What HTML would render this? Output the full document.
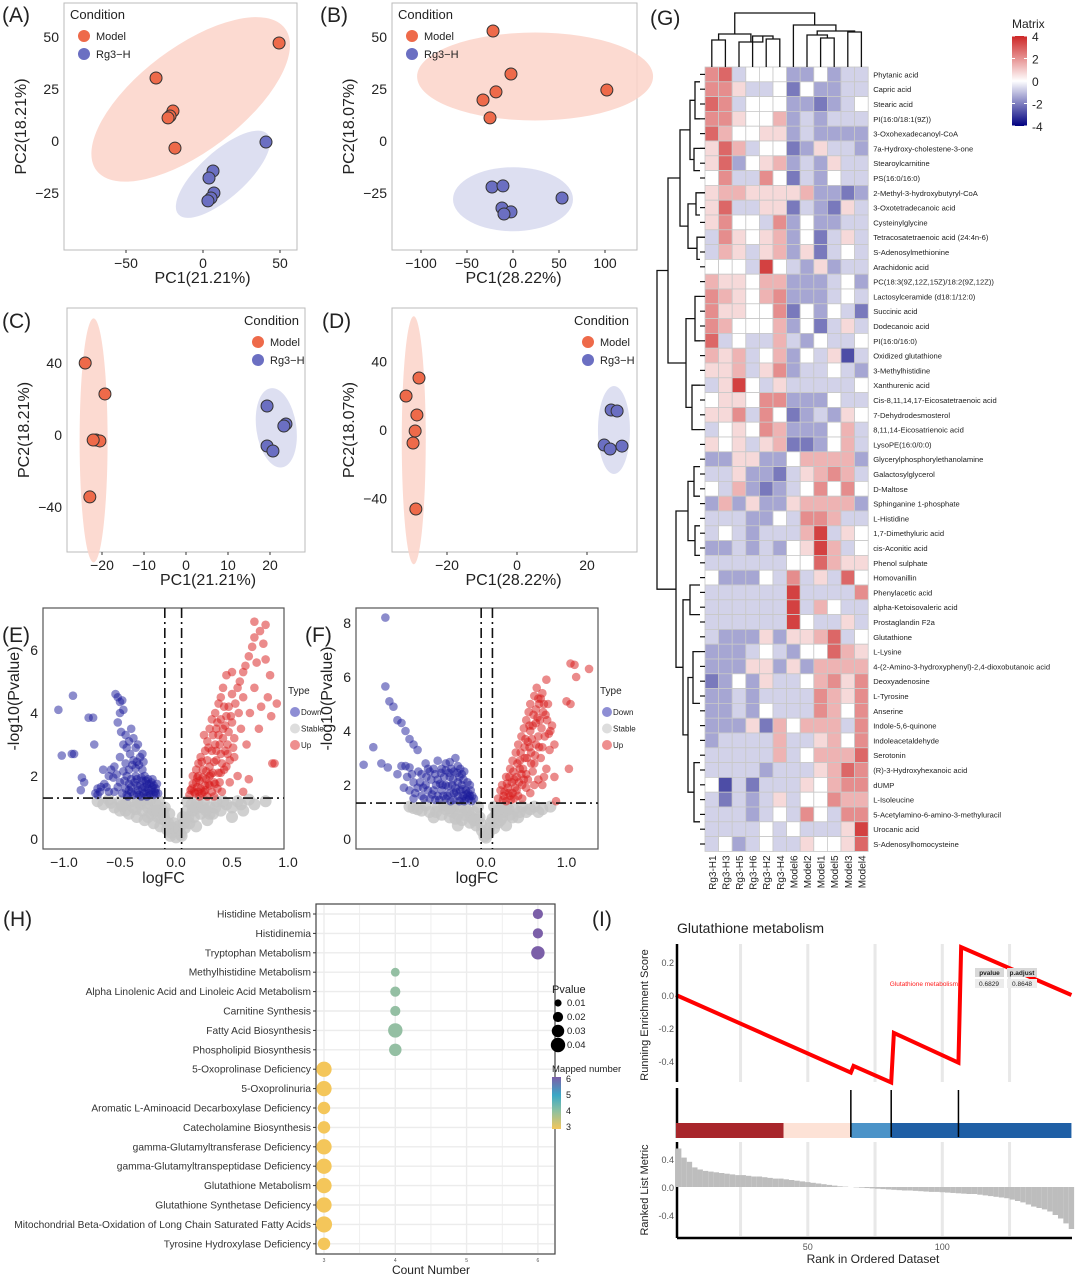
<!DOCTYPE html>
<html><head><meta charset="utf-8">
<style>
html,body{margin:0;padding:0;background:#fff;}
svg{display:block;font-family:"Liberation Sans",Arial,sans-serif;}
</style></head>
<body>
<svg id="fig" width="1080" height="1276" viewBox="0 0 1080 1276" xmlns="http://www.w3.org/2000/svg">
<g id="static" fill="#222">
<text x="2" y="22" font-size="21">(A)</text>
<text x="320" y="22" font-size="21">(B)</text>
<text x="2" y="328" font-size="21">(C)</text>
<text x="322" y="328" font-size="21">(D)</text>
<text x="2" y="642" font-size="21">(E)</text>
<text x="305" y="642" font-size="21">(F)</text>
<text x="650" y="25" font-size="21">(G)</text>
<text x="3" y="926" font-size="21">(H)</text>
<text x="592" y="926" font-size="21">(I)</text>
</g>
<g id="layer"></g>
</svg>
<script>
const NS='http://www.w3.org/2000/svg';
const root=document.getElementById('layer');
function mk(tag,attrs,parent){const e=document.createElementNS(NS,tag);for(const k in attrs)e.setAttribute(k,attrs[k]);(parent||root).appendChild(e);return e;}
function tx(x,y,s,size,attrs){const e=mk('text',Object.assign({x:x,y:y,'font-size':size,fill:'#222'},attrs||{}));e.textContent=s;return e;}

/* ---------------- PCA data ---------------- */
const pcaA_model=[[49.4,47.1],[-30.5,30.3],[-19.5,14.4],[-21.4,12],[-22.7,11.1],[-18.2,-3.4]];
const pcaA_rg3=[[40.9,-0.5],[6.5,-14.4],[3.9,-17.8],[7.1,-25],[5.2,-27.4],[3.2,-28.8]];
const pcaB_model=[[-21.7,52.9],[-2.2,32.2],[-18.5,23.6],[-32.6,19.7],[-25,11.1],[102,24.5]];
const pcaB_rg3=[[-22.8,-22.1],[-10.9,-21.6],[53.3,-27.4],[-12,-32.2],[-2.2,-34.1],[-9.8,-35.1]];
const pcaC_model=[[-24,40],[-19.3,22.8],[-21.4,-2.8],[-20.5,-3.3],[-22.1,-2.8],[-22.9,-34.4]];
const pcaC_rg3=[[19.3,16.1],[23.8,6.1],[23.3,5],[19.3,-6.1],[20.7,-8.9]];
const pcaD_model=[[-28,30.4],[-31.7,19.9],[-28.6,8.8],[-29.1,-0.6],[-29.7,-7.6],[-28.9,-46.2]];
const pcaD_rg3=[[26.9,11.7],[28.6,11.1],[24.9,-8.8],[26.6,-11.1],[30,-9.4]];
const pcaA_xticks=[-50,0,50], pcaA_yticks=[50,25,0,-25];
const pcaB_xticks=[-100,-50,0,50,100], pcaB_yticks=[50,25,0,-25];
const pcaC_xticks=[-20,-10,0,10,20], pcaC_yticks=[40,0,-40];
const pcaD_xticks=[-20,0,20], pcaD_yticks=[40,0,-40];

function pca(cfg){
  const g=mk('g',{});
  
  
  const X=v=>cfg.x0+cfg.kx*v, Y=v=>cfg.y0-cfg.ky*v;
  const box=mk('rect',{x:cfg.box[0],y:cfg.box[1],width:cfg.box[2]-cfg.box[0],height:cfg.box[3]-cfg.box[1],fill:'#fff',stroke:'#bbb','stroke-width':1},g);
  
  
  cfg.ell.forEach((e,i)=>{
    const el=mk('ellipse',{cx:X(e[0]),cy:Y(e[1]),rx:e[2],ry:e[3],transform:`rotate(${e[4]} ${X(e[0])} ${Y(e[1])})`,fill:i==0?'#fbd3c9':'#d7d9ee','fill-opacity':0.85},g);
    
    
  });
  cfg.model.forEach(p=>{
    const c=mk('circle',{cx:X(p[0]),cy:Y(p[1]),r:6,fill:'#ee6a4a',stroke:'#333','stroke-width':1},g);
    
    
  });
  cfg.rg3.forEach(p=>{
    const c=mk('circle',{cx:X(p[0]),cy:Y(p[1]),r:6,fill:'#6b6fc2',stroke:'#333','stroke-width':1},g);
    
    
  });
  cfg.xt.forEach(v=>{
    const t=tx(X(v),cfg.box[3]+18,String(v).replace('-','−'),14,{'text-anchor':'middle'});
    g.appendChild(t);
    
    
    const l=mk('line',{x1:X(v),x2:X(v),y1:cfg.box[3],y2:cfg.box[3]+3,stroke:'#333'},g);
    
    
  });
  cfg.yt.forEach(v=>{
    const t=tx(cfg.box[0]-5,Y(v)+5,String(v).replace('-','−'),14,{'text-anchor':'end'});
    g.appendChild(t);
    
    
  });
  const xt=tx((cfg.box[0]+cfg.box[2])/2+cfg.xlo,cfg.box[3]+33,cfg.xlab,16,{'text-anchor':'middle'});
  g.appendChild(xt);
  
  
  const yx=cfg.box[0]-38, yc=(cfg.box[1]+cfg.box[3])/2;
  const yt=tx(yx,yc,cfg.ylab,16,{'text-anchor':'middle',transform:`rotate(-90 ${yx} ${yc})`});
  g.appendChild(yt);
  
  
  const L=cfg.leg;
  const lt=tx(L[0],L[1],'Condition',13);g.appendChild(lt);
  
  
  [['Model','#ee6a4a'],['Rg3−H','#6b6fc2']].forEach((d,i)=>{
    const c=mk('circle',{cx:L[0]+14,cy:L[1]+17+i*18,r:6,fill:d[1]},g);
    
    
    const t=tx(L[0]+26,L[1]+21+i*18,d[0],11);g.appendChild(t);
    
    
  });
}
pca({name:'pca-a',box:[64,3,297,250],x0:203,kx:1.54,y0:141,ky:2.08,model:pcaA_model,rg3:pcaA_rg3,xt:pcaA_xticks,yt:pcaA_yticks,xlab:'PC1(21.21%)',ylab:'PC2(18.21%)',xlo:22,leg:[70,19],
  ell:[[-8,20,118,52,-37],[13,-16,60,23,-42]]});
pca({name:'pca-b',box:[392,3,637,250],x0:513,kx:0.92,y0:141,ky:2.08,model:pcaB_model,rg3:pcaB_rg3,xt:pcaB_xticks,yt:pcaB_yticks,xlab:'PC1(28.22%)',ylab:'PC2(18.07%)',xlo:-1,leg:[398,19],
  ell:[[24,31,118,44,0],[0,-28,60,32,0]]});
pca({name:'pca-c',box:[67,308,305,552],x0:186,kx:4.2,y0:435,ky:1.8,model:pcaC_model,rg3:pcaC_rg3,xt:pcaC_xticks,yt:pcaC_yticks,xlab:'PC1(21.21%)',ylab:'PC2(18.21%)',xlo:22,leg:[244,325],
  ell:[[-22,-3,14,122,0],[21.5,4,20,40,-8]]});
pca({name:'pca-d',box:[392,308,637,552],x0:517,kx:3.5,y0:430,ky:1.71,model:pcaD_model,rg3:pcaD_rg3,xt:pcaD_xticks,yt:pcaD_yticks,xlab:'PC1(28.22%)',ylab:'PC2(18.07%)',xlo:-1,leg:[574,325],
  ell:[[-29.5,-6,12,124,0],[27.7,0,16,44,0]]});

/* ---------------- Volcano data ---------------- */
const volE_down=[[-1.05,4.1],[-0.92,4.55],[-1.02,2.65],[-0.93,2.7],[-0.91,2.7],[-0.78,3.85],[-0.74,3.85],[-0.73,3.0],[-0.84,1.95],[-0.85,1.55],[-0.82,1.8],[-0.7,1.4],[-0.68,1.5],[-0.72,1.45],[-0.67,1.65],[-0.64,1.75],[-0.6,2.0],[-0.58,2.2],[-0.54,4.6],[-0.52,4.5],[-0.5,4.35],[-0.48,4.4],[-0.5,4.0],[-0.47,4.1],[-0.52,3.7],[-0.49,3.4],[-0.47,3.0],[-0.45,3.3],[-0.42,3.1],[-0.4,3.5],[-0.38,3.2],[-0.36,2.9],[-0.34,3.0],[-0.32,2.6],[-0.3,2.7],[-0.5,2.6],[-0.45,2.4],[-0.42,2.2],[-0.38,2.5],[-0.35,2.45],[-0.3,2.2],[-0.28,2.0],[-0.25,1.9],[-0.22,1.8],[-0.2,1.7],[-0.18,1.6],[-0.4,1.9],[-0.35,1.7],[-0.3,1.6],[-0.27,1.5],[-0.24,1.45],[-0.2,1.4],[-0.45,1.6],[-0.5,1.8],[-0.55,1.5],[-0.4,1.5],[-0.33,1.4],[-0.26,1.75],[-0.22,1.55],[-0.36,2.0],[-0.44,2.0],[-0.6,1.5],[-0.65,2.2],[-0.55,2.3],[-0.3,1.85],[-0.35,1.45],[-0.28,1.65],[-0.42,1.75],[-0.18,1.45],
[-0.44,1.4],[-0.42,1.55],[-0.4,1.65],[-0.38,1.4],[-0.37,1.8],[-0.34,1.55],[-0.32,1.7],[-0.31,1.95],[-0.29,1.45],[-0.27,1.85],[-0.25,1.6],[-0.24,1.75],[-0.23,1.4],[-0.21,1.65],[-0.19,1.5],[-0.17,1.75],[-0.16,1.45],[-0.46,1.85],[-0.48,1.45],[-0.52,1.65],[-0.36,2.25],[-0.33,2.35],[-0.29,2.45],[-0.41,2.7],[-0.44,2.9],[-0.56,1.95],[-0.62,1.65],[-0.7,1.6],[-0.53,2.05],[-0.47,2.15],[-0.39,2.35],[-0.31,1.35],[-0.26,1.35],[-0.21,1.9],[-0.35,1.9],[-0.43,1.35]];
const volE_up=[[0.12,1.4],[0.14,1.6],[0.16,1.5],[0.18,1.8],[0.2,2.0],[0.22,1.6],[0.24,2.2],[0.25,1.5],[0.27,1.9],[0.28,2.5],[0.3,2.3],[0.3,1.7],[0.32,2.8],[0.33,2.1],[0.35,3.0],[0.36,2.5],[0.37,1.6],[0.38,3.3],[0.4,2.7],[0.4,3.8],[0.42,3.5],[0.43,2.2],[0.45,3.9],[0.46,3.0],[0.47,4.2],[0.48,2.5],[0.5,3.7],[0.5,4.6],[0.52,3.2],[0.53,4.3],[0.55,4.8],[0.55,2.0],[0.57,5.0],[0.58,3.5],[0.6,5.3],[0.6,4.5],[0.62,5.5],[0.63,3.0],[0.65,5.8],[0.66,4.0],[0.68,6.1],[0.7,6.4],[0.7,6.9],[0.72,5.6],[0.75,6.6],[0.78,6.2],[0.8,6.8],[0.8,5.7],[0.82,4.5],[0.85,3.9],[0.86,2.4],[0.88,2.4],[0.9,4.3],[0.84,5.2],[0.74,3.5],[0.65,1.9],[0.6,1.5],[0.45,5.2],[0.5,5.3],[0.4,4.5],[0.35,4.0],[0.3,3.5],[0.28,3.1],[0.26,2.8],[0.22,2.6],[0.2,2.4],[0.18,2.2],[0.15,2.0],[0.25,3.3],[0.32,3.8],[0.38,4.3],[0.42,4.8],[0.56,4.0],[0.7,4.8],[0.76,4.2],[0.2,1.5],[0.26,1.7],[0.3,2.0],[0.34,1.8],[0.4,2.1],[0.44,2.8],[0.36,3.5],
[0.13,1.55],[0.15,1.75],[0.17,1.45],[0.19,1.65],[0.21,1.85],[0.23,1.45],[0.24,1.95],[0.26,1.55],[0.27,2.15],[0.29,1.75],[0.31,2.05],[0.32,1.5],[0.34,2.45],[0.35,1.75],[0.36,2.8],[0.38,2.1],[0.39,3.0],[0.41,2.4],[0.42,3.2],[0.44,3.6],[0.46,2.7],[0.47,3.4],[0.49,3.9],[0.51,2.9],[0.29,2.9],[0.33,3.3],[0.23,2.45],[0.19,1.95],[0.37,3.7],[0.43,4.2],[0.21,1.35],[0.28,1.35],[0.34,1.35],[0.39,1.8],[0.45,2.3],[0.52,2.6],[0.48,1.8],[0.41,1.5]];
const volE_stable=[[-0.7,1.2],[-0.65,1.1],[-0.6,1.25],[-0.55,1.0],[-0.5,1.2],[-0.5,0.9],[-0.45,1.1],[-0.42,0.8],[-0.4,1.2],[-0.38,1.0],[-0.35,0.7],[-0.32,1.1],[-0.3,0.9],[-0.28,0.6],[-0.25,1.0],[-0.22,0.8],[-0.2,0.5],[-0.18,1.1],[-0.16,0.7],[-0.14,0.4],[-0.12,0.9],[-0.1,0.6],[-0.08,0.3],[-0.06,0.8],[-0.04,0.2],[-0.02,0.5],[0,0.05],[0.02,0.4],[0.04,0.15],[0.06,0.7],[0.08,0.35],[0.1,0.9],[0.12,0.5],[0.14,1.1],[0.16,0.7],[0.18,0.4],[0.2,1.0],[0.22,0.8],[0.25,1.2],[0.28,0.6],[0.3,1.0],[0.33,0.8],[0.36,1.2],[0.4,0.9],[0.45,1.1],[0.5,0.7],[0.55,1.2],[0.6,0.9],[0.65,1.25],[0.7,1.1],[0.8,1.2],[-0.3,1.25],[0.0,0.25],[-0.05,0.1],[0.05,0.1],[-0.15,1.2],[0.1,1.2],[-0.25,0.7],[-0.1,1.0],[0.15,0.9],[0.3,0.8],[-0.45,0.9],
[-0.58,1.15],[-0.48,1.05],[-0.36,0.95],[-0.26,1.15],[-0.2,0.9],[-0.13,0.65],[-0.07,0.5],[-0.03,0.35],[0.03,0.3],[0.07,0.5],[0.11,0.7],[0.17,1.0],[0.24,1.0],[0.35,1.0],[0.42,1.2],[0.5,1.0],[0.58,1.1],[-0.34,1.2],[-0.23,1.25],[-0.17,0.9],[0.19,1.2],[0.27,0.9],[-0.11,0.75],[0.09,0.6]];
const volF_down=[[-1.25,8.2],[-1.25,5.65],[-1.2,5.1],[-1.15,4.9],[-1.1,4.4],[-1.05,4.3],[-1.0,4.0],[-0.95,3.7],[-1.4,3.4],[-1.52,2.75],[-1.3,2.8],[-1.22,2.65],[-1.1,2.4],[-0.9,3.5],[-0.85,3.3],[-1.0,2.7],[-0.95,1.8],[-0.9,2.1],[-0.8,2.4],[-0.75,2.0],[-0.7,2.5],[-0.65,1.8],[-0.6,2.2],[-0.55,2.6],[-0.5,2.0],[-0.45,2.3],[-0.4,1.7],[-0.35,2.1],[-0.3,2.4],[-0.25,1.8],[-0.2,1.6],[-0.15,1.5],[-0.8,1.6],[-0.7,1.5],[-0.6,1.6],[-0.5,1.5],[-0.4,1.45],[-0.3,1.5],[-0.2,2.0],[-0.55,1.8],[-0.45,1.7],[-0.35,1.6],[-0.25,1.5],[-0.65,2.6],[-0.75,2.8],[-0.5,2.8],[-0.4,2.5],[-0.3,2.0],[-0.85,1.9],[-0.9,1.5],[-0.18,1.4],[-1.05,2.7],[-0.95,2.65],[-0.6,2.9],[-0.45,2.85],[-0.38,3.0],[-0.35,2.7],[-0.28,2.2],[-0.22,1.7],[-0.32,1.8],[-0.42,2.0],[-0.52,2.3],[-0.62,2.0],[-0.72,1.8],[-0.82,2.1],[-0.48,1.6],[-0.38,1.9],[-0.28,1.6],[-0.58,1.45],[-0.68,2.2],
[-0.92,2.4],[-0.88,1.7],[-0.78,1.9],[-0.74,2.3],[-0.67,1.65],[-0.63,2.4],[-0.57,2.05],[-0.53,1.6],[-0.47,1.95],[-0.43,2.6],[-0.41,2.2],[-0.37,1.75],[-0.33,2.3],[-0.29,1.85],[-0.27,2.5],[-0.24,1.65],[-0.21,1.5],[-0.19,1.8],[-0.17,1.6],[-0.36,2.45],[-0.32,2.6],[-0.46,2.45],[-0.54,2.0],[-0.72,2.6],[-0.77,1.5],[-0.84,2.5],[-0.98,2.3],[-1.02,1.9],[-0.63,1.45],[-0.33,1.4],[-0.44,1.4],[-0.23,2.1],[-0.27,1.4],[-0.5,2.55],[-0.56,2.45]];
const volF_up=[[0.15,1.5],[0.18,1.8],[0.2,2.0],[0.22,1.6],[0.25,2.3],[0.27,1.9],[0.3,2.6],[0.3,1.6],[0.33,2.9],[0.35,2.2],[0.37,3.2],[0.38,1.8],[0.4,3.5],[0.42,2.6],[0.44,3.8],[0.45,2.0],[0.47,4.1],[0.48,3.0],[0.5,4.4],[0.5,2.4],[0.52,3.6],[0.53,4.7],[0.55,5.0],[0.56,3.2],[0.58,4.2],[0.6,5.3],[0.6,2.8],[0.62,4.8],[0.63,5.6],[0.65,3.8],[0.65,5.2],[0.67,4.4],[0.68,5.2],[0.7,5.4],[0.7,3.4],[0.72,5.0],[0.74,4.6],[0.75,5.9],[0.77,5.0],[0.78,3.9],[0.8,4.0],[0.82,4.2],[0.85,3.5],[0.45,1.5],[0.55,1.7],[0.65,2.2],[0.75,2.6],[0.35,1.5],[0.25,1.4],[1.05,6.5],[1.1,6.45],[1.0,5.1],[1.05,5.0],[1.28,6.3],[1.12,6.0],[0.85,2.3],[0.87,1.4],[0.52,2.2],[0.42,2.9],[0.32,2.1],[0.28,1.7],[0.62,3.5],[0.58,2.5],[0.68,3.0],[0.72,2.3],[0.62,4.3],[0.55,4.0],[0.48,3.4],[1.03,2.6],
[0.21,1.45],[0.23,1.75],[0.26,2.05],[0.29,2.3],[0.31,1.45],[0.34,2.5],[0.36,1.9],[0.39,2.8],[0.41,2.1],[0.43,3.2],[0.46,2.6],[0.49,3.7],[0.51,3.0],[0.54,4.2],[0.57,3.7],[0.59,4.6],[0.61,3.1],[0.64,4.5],[0.66,5.0],[0.69,4.1],[0.71,4.7],[0.73,3.8],[0.76,4.4],[0.79,3.3],[0.4,1.6],[0.5,1.9],[0.6,2.0],[0.7,2.0],[0.33,1.7],[0.44,2.4],[0.56,2.8],[0.66,3.4],[0.54,3.4],[0.47,2.2],[0.38,2.3]];
const volF_stable=[[-0.95,1.2],[-0.85,1.1],[-0.75,1.25],[-0.7,1.0],[-0.6,1.2],[-0.55,0.9],[-0.5,1.1],[-0.45,0.8],[-0.4,1.2],[-0.35,0.9],[-0.3,0.7],[-0.25,1.1],[-0.2,0.6],[-0.15,1.0],[-0.12,0.5],[-0.08,0.8],[-0.05,0.3],[-0.02,0.1],[0,0.05],[0.03,0.2],[0.06,0.6],[0.1,0.4],[0.12,0.9],[0.15,0.6],[0.18,1.1],[0.2,0.8],[0.25,1.2],[0.3,0.9],[0.35,1.1],[0.4,0.8],[0.45,1.2],[0.5,1.0],[0.6,1.2],[0.7,1.1],[0.8,1.2],[-0.65,0.8],[-0.35,0.5],[0.25,0.5],[-0.1,1.2],[0.1,1.2],
[-0.9,1.15],[-0.8,1.05],[-0.62,1.0],[-0.52,1.25],[-0.42,1.0],[-0.32,1.2],[-0.28,0.9],[-0.22,1.0],[-0.18,0.8],[-0.1,0.7],[-0.06,0.55],[0.04,0.4],[0.08,0.75],[0.14,1.05],[0.22,1.0],[0.28,1.1],[0.33,0.8],[0.42,1.0],[0.55,1.1],[0.65,1.0],[-0.45,1.15],[-0.38,0.75],[0.18,0.7],[-0.15,0.7]];
const volE_xticks=[-1.0,-0.5,0.0,0.5,1.0], volE_yticks=[0,2,4,6];
const volF_xticks=[-1.0,0.0,1.0], volF_yticks=[0,2,4,6,8];

function volcano(cfg){
  const g=mk('g',{});
  
  
  const X=v=>cfg.x0+cfg.kx*v, Y=v=>cfg.y0-cfg.ky*v;
  const b=cfg.box;
  const r=mk('rect',{x:b[0],y:b[1],width:b[2]-b[0],height:b[3]-b[1],fill:'#fff',stroke:'#555','stroke-width':1.2},g);
  
  
  const groups=[[cfg.stable,'#c4c4c4',0.8,6,'stable-point'],[cfg.down,'#1a1a9a',0.5,4.3,'down-point'],[cfg.up,'#d81818',0.5,4.3,'up-point']];
  groups.forEach(gr=>gr[0].forEach(p=>{
    const c=mk('circle',{cx:X(p[0]),cy:Y(p[1]),r:gr[3],fill:gr[1],'fill-opacity':gr[2]},g);
    
    
  }));
  cfg.vl.forEach(v=>{
    const l=mk('line',{x1:X(v),x2:X(v),y1:b[1],y2:b[3],stroke:'#111','stroke-width':1.6,'stroke-dasharray':'10 4 2 4'},g);
    
    
  });
  const h=mk('line',{x1:b[0],x2:b[2],y1:Y(cfg.hl),y2:Y(cfg.hl),stroke:'#111','stroke-width':1.6,'stroke-dasharray':'10 4 2 4'},g);
  
  
  cfg.xt.forEach(v=>{
    const t=tx(X(v),b[3]+18,v.toFixed(1).replace('-','−'),14,{'text-anchor':'middle'});g.appendChild(t);
    
    
  });
  cfg.yt.forEach(v=>{
    const t=tx(b[0]-5,Y(v)+5,String(v),14,{'text-anchor':'end'});g.appendChild(t);
    
    
  });
  const xt=tx((b[0]+b[2])/2,b[3]+34,'logFC',16,{'text-anchor':'middle'});g.appendChild(xt);
  
  
  const yx=b[0]-24,yc=(b[1]+b[3])/2-30;
  const yt=tx(yx,yc,'-log10(Pvalue)',16,{'text-anchor':'middle',transform:`rotate(-90 ${yx} ${yc})`});g.appendChild(yt);
  
  
  const L=cfg.leg;
  const lt=tx(L[0],L[1],'Type',10);g.appendChild(lt);
  
  
  [['Down','#8e8ed4'],['Stable','#ddd'],['Up','#ee8f8f']].forEach((d,i)=>{
    const c=mk('circle',{cx:L[0]+7,cy:L[1]+18+i*16.5,r:5,fill:d[1]},g);
    
    
    const t=tx(L[0]+13,L[1]+21+i*16.5,d[0],8);g.appendChild(t);
    
    
  });
}
volcano({name:'volcano-e',box:[43,608,284,849],x0:176,kx:112,y0:839,ky:31.5,down:volE_down,up:volE_up,stable:volE_stable,vl:[-0.1,0.05],hl:1.3,xt:volE_xticks,yt:volE_yticks,leg:[288,694]});
volcano({name:'volcano-f',box:[356,608,598,849],x0:486,kx:80.5,y0:839,ky:27,down:volF_down,up:volF_up,stable:volF_stable,vl:[-0.06,0.08],hl:1.33,xt:volF_xticks,yt:volF_yticks,leg:[600,694]});

/* ---------------- Heatmap ---------------- */
const hmCols=['Rg3-H1','Rg3-H3','Rg3-H5','Rg3-H6','Rg3-H2','Rg3-H4','Model6','Model2','Model1','Model5','Model3','Model4'];
const hmRows=['Phytanic acid','Capric acid','Stearic acid','PI(16:0/18:1(9Z))','3-Oxohexadecanoyl-CoA','7a-Hydroxy-cholestene-3-one','Stearoylcarnitine','PS(16:0/16:0)','2-Methyl-3-hydroxybutyryl-CoA','3-Oxotetradecanoic acid','Cysteinylglycine','Tetracosatetraenoic acid (24:4n-6)','S-Adenosylmethionine','Arachidonic acid','PC(18:3(9Z,12Z,15Z)/18:2(9Z,12Z))','Lactosylceramide (d18:1/12:0)','Succinic acid','Dodecanoic acid','PI(16:0/16:0)','Oxidized glutathione','3-Methylhistidine','Xanthurenic acid','Cis-8,11,14,17-Eicosatetraenoic acid','7-Dehydrodesmosterol','8,11,14-Eicosatrienoic acid','LysoPE(16:0/0:0)','Glycerylphosphorylethanolamine','Galactosylglycerol','D-Maltose','Sphinganine 1-phosphate','L-Histidine','1,7-Dimethyluric acid','cis-Aconitic acid','Phenol sulphate','Homovanillin','Phenylacetic acid','alpha-Ketoisovaleric acid','Prostaglandin F2a','Glutathione','L-Lysine','4-(2-Amino-3-hydroxyphenyl)-2,4-dioxobutanoic acid','Deoxyadenosine','L-Tyrosine','Anserine','Indole-5,6-quinone','Indoleacetaldehyde','Serotonin','(R)-3-Hydroxyhexanoic acid','dUMP','L-Isoleucine','5-Acetylamino-6-amino-3-methyluracil','Urocanic acid','S-Adenosylhomocysteine'];
/* each char = z-score level: '0'..'9' -> (c-5)*0.7, 'X' -> 3.5 */
const hmValues=['894555335344','886445253344','984555332345','886557343444','975566343333','697455236443','693567343644','584485243544','677666673323','694466243264','685548353344','486567352464','476467362454','5554X5436344','766577333453','876578333454','866558253542','875557352464','945447435445','767457354614','667468344543','46X546444445','566588333544','668485234365','456587333574','656467223574','336633577773','446332467874','547323458585','373633677773','444335488744','45434447X465','33434356X745','444444559766','533354846495','444444X44448','444444X47544','444444X54464','433363667945','333454355976','333663637777','235364457868','334344448768','334354448758','333627577748','344447446758','444447457779','444434446798','514244465788','424346455877','444345485488','44445454446X','453454465569'];
const hmLegendTicks=[4,2,0,-2,-4];
function hmColor(v){
  if(v>=0){const t=Math.min(v/4,1);return `rgb(${Math.round(255-t*(255-205))},${Math.round(255-t*(255-38))},${Math.round(255-t*(255-38))})`;}
  const t=Math.min(-v/4,1);return `rgb(${Math.round(255-t*255)},${Math.round(255-t*255)},${Math.round(255-t*(255-128))})`;
}
const HX=705, HY=67, CW=13.6, RH=14.8;
(function(){
  const g=mk('g',{});
  
  
  hmValues.forEach((row,ri)=>{
    for(let ci=0;ci<hmCols.length;ci++){
      const ch=row[ci]; const v=ch==='X'?3.5:(parseInt(ch)-5)*0.7;
      const c=mk('rect',{x:HX+ci*CW,y:HY+ri*RH,width:CW,height:RH,fill:hmColor(v),stroke:'#c8c8c8','stroke-width':0.8},g);
      
      
    }
    const t=tx(HX+hmCols.length*CW+5,HY+ri*RH+RH/2+3,hmRows[ri],7.6,{fill:'#222'});g.appendChild(t);
    
    
  });
  const by=HY+hmRows.length*RH;
  hmCols.forEach((c,ci)=>{
    const x=HX+ci*CW+CW/2+4;
    const t=tx(x,by+4,c,10,{'text-anchor':'end',transform:`rotate(-90 ${x} ${by+4})`});g.appendChild(t);
    
    
  });
  const cx=i=>HX+i*CW+CW/2;
  const dpaths=[
    `M${cx(0)} ${HY}V40H${cx(1)}V${HY}`,
    `M${cx(4)} ${HY}V39H${cx(5)}V${HY}`,
    `M${cx(3)} ${HY}V36H${(cx(4)+cx(5))/2}V39`,
    `M${cx(2)} ${HY}V42H${(cx(3)+(cx(4)+cx(5))/2)/2}V36`,
    `M${(cx(0)+cx(1))/2} 40V34H${(cx(2)+(cx(3)+(cx(4)+cx(5))/2)/2)/2}V42`,
    `M${cx(8)} ${HY}V38H${cx(9)}V${HY}`,
    `M${cx(7)} ${HY}V35H${(cx(8)+cx(9))/2}V38`,
    `M${cx(10)} ${HY}V32H${cx(11)}V${HY}`,
    `M${(cx(7)+(cx(8)+cx(9))/2)/2} 35V31H${(cx(10)+cx(11))/2}V32`,
    `M${cx(6)} ${HY}V25H${((cx(7)+(cx(8)+cx(9))/2)/2+(cx(10)+cx(11))/2)/2}V31`,
    `M${((cx(0)+cx(1))/2+(cx(2)+(cx(3)+(cx(4)+cx(5))/2)/2)/2)/2} 34V13H${(cx(6)+((cx(7)+(cx(8)+cx(9))/2)/2+(cx(10)+cx(11))/2)/2)/2}V25`
  ];
  dpaths.forEach(d=>{
    const p=mk('path',{d:d,fill:'none',stroke:'#111','stroke-width':1.3},g);
    
    
  });
  const ry=i=>HY+i*RH+RH/2;
  const splits=[[0,53,657],[0,26,668],[26,53,676],[0,14,680],[14,26,686],[26,34,688],[34,53,683],[0,8,690],[8,14,688],[14,20,695],[20,26,692],[26,30,694],[30,34,695],[34,38,690],[38,53,688],[0,5,695],[5,8,694],[8,11,696],[11,14,697],[38,45,693],[45,53,694]];
  function mid(a,b){return splits.find(q=>q[0]===a&&q[1]===b);}
  function node(a,b){
    const s=mid(a,b);
    if(!s){return {y:(ry(a)+ry(b-1))/2,x:b-a===1?HX:700};}
    let m=null;for(const q of splits){if(q[0]===a&&q[1]<b){m=q[1];break;}}
    if(m===null)m=Math.floor((a+b)/2);
    const L=node(a,m),R=node(m,b);
    const p=mk('path',{d:`M${L.x} ${L.y}H${s[2]}V${R.y}H${R.x}`,fill:'none',stroke:'#111','stroke-width':1.3},g);
    
    
    return {y:(L.y+R.y)/2,x:s[2]};
  }
  for(let i=0;i<53;i++){
    const l=mk('line',{x1:700,x2:HX,y1:ry(i),y2:ry(i),stroke:'#111','stroke-width':1.2},g);
    
    
  }
  node(0,53);
  const lt=tx(1012,28,'Matrix',12);g.appendChild(lt);
  
  
  const defs=mk('defs',{},g);
  const lg=mk('linearGradient',{id:'hmg',x1:0,y1:0,x2:0,y2:1},defs);
  [['0','#cd2626'],['0.5','#ffffff'],['1','#000080']].forEach(s=>mk('stop',{offset:s[0],'stop-color':s[1]},lg));
  const cb=mk('rect',{x:1012,y:36,width:15,height:90,fill:'url(#hmg)'},g);
  
  
  hmLegendTicks.forEach(v=>{
    const y=81-v*(22.5/2);
    const t=tx(1032,y+5,String(v),12);g.appendChild(t);
    
    
    mk('line',{x1:1012,x2:1015,y1:y,y2:y,stroke:'#fff'},g);
    mk('line',{x1:1024,x2:1027,y1:y,y2:y,stroke:'#fff'},g);
  });
})();

/* ---------------- Dot plot H ---------------- */
const dotCategories=['Histidine Metabolism','Histidinemia','Tryptophan Metabolism','Methylhistidine Metabolism','Alpha Linolenic Acid and Linoleic Acid Metabolism','Carnitine Synthesis','Fatty Acid Biosynthesis','Phospholipid Biosynthesis','5-Oxoprolinase Deficiency','5-Oxoprolinuria','Aromatic L-Aminoacid Decarboxylase Deficiency','Catecholamine Biosynthesis','gamma-Glutamyltransferase Deficiency','gamma-Glutamyltranspeptidase Deficiency','Glutathione Metabolism','Glutathione Synthetase Deficiency','Mitochondrial Beta-Oxidation of Long Chain Saturated Fatty Acids','Tyrosine Hydroxylase Deficiency'];
const dotCounts=[6,6,6,4,4,4,4,4,3,3,3,3,3,3,3,3,3,3];
const dotPvalues=[0.02,0.02,0.035,0.015,0.02,0.02,0.04,0.03,0.045,0.045,0.03,0.03,0.045,0.045,0.045,0.045,0.05,0.03];
const dotXticks=[3,4,5,6];
const dotSizeLegend=[0.01,0.02,0.03,0.04];
const dotColorLegend=[6,5,4,3];
(function(){
  const g=mk('g',{});
  
  
  const X=v=>324+(v-3)*71.3, Y=i=>914+i*19.4;
  const R=p=>Math.sqrt(p)*36;
  const col=v=>v>=6?'#7b5fa8':v>=4?'#94bfa3':'#f4c65a';
  const box=mk('rect',{x:316,y:904,width:239,height:350,fill:'#fff',stroke:'#444','stroke-width':1.2},g);
  
  
  [3,3.5,4,4.5,5,5.5,6].forEach(v=>{
    const l=mk('line',{x1:X(v),x2:X(v),y1:905,y2:1253,stroke:'#ececec','stroke-width':v%1?0.8:1.4},g);
    
    
  });
  dotCategories.forEach((c,i)=>{
    const l=mk('line',{x1:317,x2:554,y1:Y(i),y2:Y(i),stroke:'#ececec','stroke-width':1.4},g);
    
    
    const t=tx(311,Y(i)+3.5,c,10.2,{'text-anchor':'end',fill:'#333'});g.appendChild(t);
    
    
    const tk=mk('line',{x1:313,x2:316,y1:Y(i),y2:Y(i),stroke:'#333'},g);
    
    
  });
  dotCategories.forEach((c,i)=>{
    const d=mk('circle',{cx:X(dotCounts[i]),cy:Y(i),r:R(dotPvalues[i]),fill:col(dotCounts[i])},g);
    
    
  });
  dotXticks.forEach(v=>{
    const t=tx(X(v),1262,String(v),5,{'text-anchor':'middle',fill:'#555'});g.appendChild(t);
    
    
  });
  const xt=tx(431,1274,'Count Number',12,{'text-anchor':'middle'});g.appendChild(xt);
  
  
  const pt=tx(552,993,'Pvalue',11);g.appendChild(pt);
  
  
  dotSizeLegend.forEach((p,i)=>{
    const c=mk('circle',{cx:558,cy:1003+i*14,r:R(p),fill:'#000'},g);
    
    
    const t=tx(567,1006+i*14,p.toFixed(2),9.5);g.appendChild(t);
    
    
  });
  const mt=tx(552,1072,'Mapped number',9.5);g.appendChild(mt);
  
  
  const defs=mk('defs',{},g);
  const lg=mk('linearGradient',{id:'dg',x1:0,y1:0,x2:0,y2:1},defs);
  [['0','#7b5fa8'],['0.35','#3aa8c6'],['0.65','#8cc0a0'],['1','#f4c65a']].forEach(s=>mk('stop',{offset:s[0],'stop-color':s[1]},lg));
  const cb=mk('rect',{x:552,y:1077,width:9,height:52,fill:'url(#dg)'},g);
  
  
  dotColorLegend.forEach(v=>{
    const t=tx(566,1082+(6-v)*16,String(v),9);g.appendChild(t);
    
    
  });
})();

/* ---------------- GSEA I ---------------- */
const gseaRanks=[1,66,67,81,82,106,107,148];
const gseaES=[0.0,-0.47,-0.43,-0.53,-0.23,-0.41,0.29,0.0];
const gseaHits=[66,81,106];
const gseaMetric=[0.55,0.42,0.36,0.28,0.25,0.23,0.22,0.21,0.2,0.19,0.18,0.17,0.17,0.16,0.15,0.15,0.14,0.13,0.12,0.12,0.11,0.1,0.09,0.08,0.07,0.06,0.05,0.04,0.03,0.02,0.01,0.005,0,-0.005,-0.01,-0.015,-0.02,-0.025,-0.03,-0.035,-0.04,-0.045,-0.05,-0.05,-0.055,-0.06,-0.065,-0.07,-0.07,-0.075,-0.08,-0.085,-0.09,-0.095,-0.1,-0.1,-0.11,-0.12,-0.13,-0.14,-0.15,-0.16,-0.18,-0.2,-0.22,-0.25,-0.28,-0.3,-0.32,-0.35,-0.4,-0.45,-0.52,-0.6];
const gseaXticks=[50,100];
const gseaESticks=[0.2,0.0,-0.2,-0.4];
const gseaMetricTicks=[0.4,0.0,-0.4];
(function(){
  const g=mk('g',{});
  
  
  const X=r=>676+(r-1)*2.69;
  const Ye=v=>995-v*165;
  const Ym=v=>1187-v*70;
  const title=tx(677,933,'Glutathione metabolism',14);g.appendChild(title);
  
  
  [25,50,75,100,125].forEach(r=>{
    [[944,1082],[1142,1236]].forEach(s=>{
      const l=mk('line',{x1:X(r),x2:X(r),y1:s[0],y2:s[1],stroke:'#e8e8e8','stroke-width':3},g);
      
      
    });
  });
  const pts=gseaRanks.map((r,i)=>`${X(r)},${Ye(gseaES[i])}`).join(' ');
  const es=mk('polyline',{points:pts,fill:'none',stroke:'#ff0000','stroke-width':4,'stroke-linejoin':'miter'},g);
  
  
  gseaESticks.forEach(v=>{
    const t=tx(674,Ye(v)+4,v.toFixed(1),9,{'text-anchor':'end',fill:'#555'});g.appendChild(t);
    
    
  });
  [[677,944,677,1082],[677,1088,677,1138],[677,1142,677,1238],[677,1238,1072,1238]].forEach(a=>{
    const l=mk('line',{x1:a[0],y1:a[1],x2:a[2],y2:a[3],stroke:'#000','stroke-width':2.5},g);
    
    
  });
  [[975,1004,'pvalue'],[1007,1037,'p.adjust']].forEach(c=>{
    const r=mk('rect',{x:c[0],y:968,width:c[1]-c[0],height:9,fill:'#d9d9d9'},g);
    
    
    const t=tx((c[0]+c[1])/2,975,c[2],6.5,{'text-anchor':'middle','font-weight':'bold'});g.appendChild(t);
    
    
    const r2=mk('rect',{x:c[0],y:979,width:c[1]-c[0],height:9,fill:'#ececec'},g);
    
    
  });
  const v1=tx(989,986,'0.6829',6.5,{'text-anchor':'middle'});g.appendChild(v1);
  
  
  const v2=tx(1022,986,'0.8648',6.5,{'text-anchor':'middle'});g.appendChild(v2);
  
  
  const gn=tx(958,986,'Glutathione metabolism',6.5,{'text-anchor':'end',fill:'#ff2020'});g.appendChild(gn);
  
  
  [[1,41,'#a8262b'],[41,66,'#fde2d6'],[66,81,'#4b93c8'],[81,148,'#1f5fa5']].forEach(s=>{
    const r=mk('rect',{x:X(s[0]),y:1123,width:X(s[1])-X(s[0]),height:15,fill:s[2]},g);
    
    
  });
  gseaHits.forEach(h=>{
    const l=mk('line',{x1:X(h),x2:X(h),y1:1090,y2:1137,stroke:'#000','stroke-width':1.5},g);
    
    
  });
  gseaMetric.forEach((v,i)=>{
    const x=X(1+i*2);
    const b=mk('rect',{x:x,y:Math.min(Ym(v),Ym(0)),width:5.38,height:Math.abs(Ym(v)-Ym(0)),fill:'#bdbdbd'},g);
    
    
  });
  gseaMetricTicks.forEach(v=>{
    const t=tx(674,Ym(v)+4,v.toFixed(1),9,{'text-anchor':'end',fill:'#555'});g.appendChild(t);
    
    
  });
  gseaXticks.forEach(r=>{
    const t=tx(X(r),1250,String(r),9,{'text-anchor':'middle',fill:'#555'});g.appendChild(t);
    
    
  });
  const xt=tx(873,1263,'Rank in Ordered Dataset',12,{'text-anchor':'middle'});g.appendChild(xt);
  
  
  const y1=tx(648,1015,'Running Enrichment Score',11,{'text-anchor':'middle',transform:'rotate(-90 648 1015)'});g.appendChild(y1);
  
  
  const y2=tx(648,1190,'Ranked List Metric',11,{'text-anchor':'middle',transform:'rotate(-90 648 1190)'});g.appendChild(y2);
  
  
})();
</script>
</body></html>
